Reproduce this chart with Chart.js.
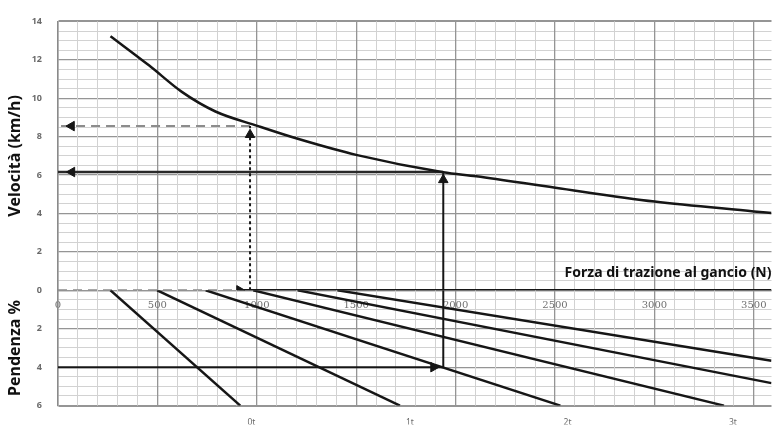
<!DOCTYPE html>
<html><head><meta charset="utf-8">
<script src="https://cdn.jsdelivr.net/npm/chart.js@4.4.1/dist/chart.umd.min.js"></script>
<style>html,body{margin:0;padding:0;background:#fff}canvas{display:block}</style>
</head><body>
<canvas id="c" width="778" height="427"></canvas>
<script>
// ---- data ----
const curveForce = [264, 459, 623, 792, 1007, 1206, 1505, 1938, 2104, 2502, 3001, 3500, 3589];
const curveSpeed = [13.23, 11.70, 10.33, 9.31, 8.55, 7.89, 7.04, 6.15, 5.94, 5.34, 4.62, 4.11, 4.02];

const slopeStartForce = [264, 499, 743, 982, 1206, 1406];
const slopeEndForce   = [917, 1720, 2527, 3350, 3589, 3589];
const slopeEndGrade   = [6, 6, 6, 6, 4.83, 3.66];

const tonLabels = ['0t', '1t', '2t', '3t'];
const tonForce  = [973, 1770, 2563, 3395];

const forceTickLabels = [0, 500, 1000, 1500, 2000, 2500, 3000, 3500];
const speedTickLabels = [0, 2, 4, 6, 8, 10, 12, 14];
const gradeTickLabels = [0, 2, 4, 6];

// example A (dashed): force on flat -> speed
const exA_force = [0, 913, 966];
const exA_speed = [8.55, 8.1];
const exA_arrowLeftForce = 68;
// example B (solid): grade 4 % -> speed
const exB_force = [1889, 1938];
const exB_grade = 4;
const exB_speed = [5.75, 6.16];
const exB_arrowLeftForce = 70;

const forceMax = 3589, speedMax = 14, gradeMax = 6;

// ---- helpers ----
const BLACK = '#161616';
const range = (a, b, s) => { const r = []; for (let v = a; v <= b + 1e-9; v += s) r.push(Math.round(v * 1000) / 1000); return r; };
const isMajor = (v, arr) => arr.some(t => Math.abs(t - v) < 1e-6);
const arrowDs = (pts, yAxisID, arrowIdx, rot, extra) => Object.assign({
  data: pts, yAxisID, showLine: true, borderColor: BLACK, backgroundColor: BLACK,
  borderWidth: 2, pointStyle: 'triangle',
  pointRadius: pts.map((p, i) => i === arrowIdx ? 5.5 : 0),
  pointRotation: pts.map(() => rot),
  pointBackgroundColor: BLACK, pointBorderColor: BLACK, pointBorderWidth: 1
}, extra || {});

const datasets = [];
datasets.push({
  data: curveForce.map((x, i) => ({x, y: curveSpeed[i]})), yAxisID: 'yV', showLine: true,
  borderColor: BLACK, borderWidth: 2.5, pointRadius: 0, cubicInterpolationMode: 'monotone'
});
slopeStartForce.forEach((s, i) => datasets.push({
  data: [{x: s, y: 0}, {x: slopeEndForce[i], y: slopeEndGrade[i]}], yAxisID: 'yP', showLine: true,
  borderColor: BLACK, borderWidth: 2.5, pointRadius: 0
}));
// zero line
datasets.push({ data: [{x: exA_force[1], y: 0}, {x: forceMax, y: 0}], yAxisID: 'yV', showLine: true,
  borderColor: BLACK, borderWidth: 2.5, pointRadius: 0 });
datasets.push(arrowDs([{x: exA_force[0], y: 0}, {x: exA_force[1], y: 0}], 'yV', 1, 90,
  {borderColor: '#8c8c8c', borderDash: [9, 6], borderWidth: 2}));
datasets.push(arrowDs([{x: exA_force[2], y: 0}, {x: exA_force[2], y: exA_speed[1]}, {x: exA_force[2], y: exA_speed[0]}], 'yV', 1, 0,
  {borderDash: [3, 3], borderWidth: 2}));
datasets.push(arrowDs([{x: exA_force[2], y: exA_speed[0]}, {x: exA_arrowLeftForce, y: exA_speed[0]}, {x: 0, y: exA_speed[0]}], 'yV', 1, 270,
  {borderColor: '#8c8c8c', borderDash: [9, 6], borderWidth: 2}));
// example B
datasets.push(arrowDs([{x: 0, y: exB_grade}, {x: exB_force[0], y: exB_grade}, {x: exB_force[1], y: exB_grade}], 'yP', 1, 90));
datasets.push({ data: [{x: exB_force[1], y: exB_grade}, {x: exB_force[1], y: 0}], yAxisID: 'yP', showLine: true,
  borderColor: BLACK, borderWidth: 2, pointRadius: 0 });
datasets.push(arrowDs([{x: exB_force[1], y: 0}, {x: exB_force[1], y: exB_speed[0]}, {x: exB_force[1], y: exB_speed[1]}], 'yV', 1, 0));
datasets.push(arrowDs([{x: exB_force[1], y: exB_speed[1]}, {x: exB_arrowLeftForce, y: exB_speed[1]}, {x: 0, y: exB_speed[1]}], 'yV', 1, 270,
  {borderColor: '#2a2a2a', borderWidth: 2.5}));

Chart.defaults.font.family = "'Noto Sans', 'DejaVu Sans', sans-serif";

const gridColor = (majors) => (ctx) => (ctx.tick && isMajor(ctx.tick.value, majors)) ? '#959595' : '#d2d2d2';
const gridWidth = (majors, bounds) => (ctx) => {
  if (!ctx.tick) return 1;
  if (bounds && isMajor(ctx.tick.value, bounds)) return 2;
  return isMajor(ctx.tick.value, majors) ? 1.3 : 1;
};
const yTickFont = {size: 9, weight: 'bold'};

new Chart(document.getElementById('c'), {
  type: 'scatter',
  data: { datasets },
  options: {
    responsive: false, animation: false, devicePixelRatio: 1,
    layout: { padding: { top: 15, right: 0, left: 0, bottom: 0 } },
    plugins: { legend: { display: false }, tooltip: { enabled: false } },
    scales: {
      x: {
        type: 'linear', position: { yV: 0 }, min: 0, max: forceMax,
        afterBuildTicks: s => { s.ticks = range(0, 3500, 100).map(v => ({value: v})); },
        afterFit: s => { s.height = 0; },
        ticks: { autoSkip: false, maxRotation: 0, padding: 9, color: '#707070',
          font: {family: "'DejaVu Serif', serif", size: 10},
          callback: v => isMajor(v, forceTickLabels) ? String(v) : '' },
        grid: { z: -1, drawTicks: false, color: gridColor(forceTickLabels), lineWidth: gridWidth(forceTickLabels) },
        border: { display: false },
        title: { display: true, text: 'Forza di trazione al gancio (N)', align: 'end', color: '#111',
          font: {size: 14, weight: 'bold'}, padding: {top: 0, bottom: 9} }
      },
      x2: {
        type: 'linear', position: 'bottom', min: 0, max: forceMax,
        afterBuildTicks: s => { s.ticks = tonForce.map(v => ({value: v})); },
        afterFit: s => { s.height = 19; },
        ticks: { autoSkip: false, maxRotation: 0, padding: 4, color: '#6a6a6a', font: {size: 8.5},
          callback: (v, i) => tonLabels[i] },
        grid: { display: false }, border: { display: false }
      },
      yP: {
        type: 'linear', position: 'left', stack: 'left', stackWeight: gradeMax, reverse: true,
        min: 0, max: gradeMax,
        afterBuildTicks: s => { s.ticks = range(0, gradeMax, 0.5).map(v => ({value: v})); },
        afterFit: s => { s.width = 58; },
        ticks: { autoSkip: false, padding: 16, color: '#6a6a6a', font: yTickFont,
          callback: v => (v !== 0 && isMajor(v, gradeTickLabels)) ? String(v) : '' },
        grid: { z: -2, drawTicks: false, color: gridColor(gradeTickLabels), lineWidth: gridWidth(gradeTickLabels, [gradeMax]) },
        border: { color: '#8a8a8a', width: 1.5 },
        title: { display: true, text: 'Pendenza %', color: '#111', font: {size: 16, weight: 'bold'}, padding: {top: 6, bottom: 0} }
      },
      yV: {
        type: 'linear', position: 'left', stack: 'left', stackWeight: speedMax,
        min: 0, max: speedMax,
        afterBuildTicks: s => { s.ticks = range(0, speedMax, 0.5).map(v => ({value: v})); },
        afterFit: s => { s.width = 58; },
        ticks: { autoSkip: false, padding: 16, color: '#6a6a6a', font: yTickFont,
          callback: v => isMajor(v, speedTickLabels) ? String(v) : '' },
        grid: { z: -2, drawTicks: false, color: gridColor(speedTickLabels), lineWidth: gridWidth(speedTickLabels, [speedMax]) },
        border: { color: '#8a8a8a', width: 1.5 },
        title: { display: true, text: 'Velocità (km/h)', color: '#111', font: {size: 16, weight: 'bold'}, padding: {top: 6, bottom: 0} }
      }
    }
  }
});
</script>
</body></html>
